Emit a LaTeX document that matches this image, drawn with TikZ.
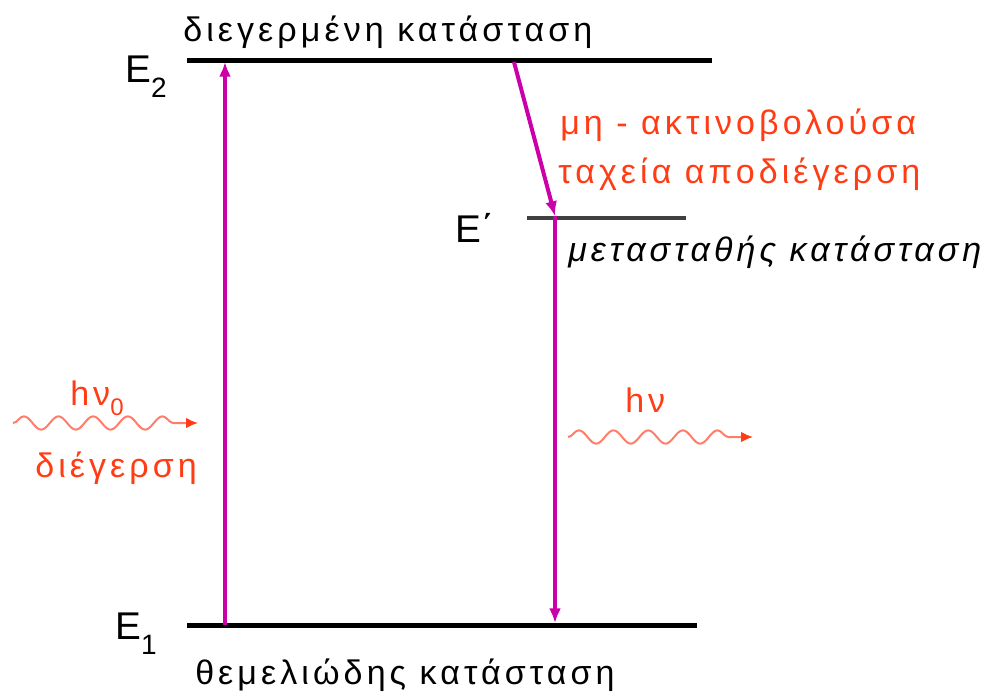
\documentclass[tikz,border=0pt]{standalone}
\usepackage{fontspec}
\setmainfont{Liberation Sans}
\usetikzlibrary{
    arrows.meta,
    decorations.pathmorphing,
    positioning
}
\definecolor{transmag}{RGB}{204,0,170}
\definecolor{labred}{RGB}{255,60,20}
\definecolor{wavered}{RGB}{255,125,105}
\definecolor{metagray}{RGB}{64,64,64}
\newcommand{\lvfont}{\fontsize{29}{34}\selectfont}
\newcommand{\txfont}{\fontsize{25.5}{30}\selectfont\addfontfeature{LetterSpace=12}}
\newcommand{\lvsub}[1]{\raisebox{-0.4em}{\fontsize{21}{24}\selectfont #1}}
\newcommand{\hvsub}[1]{\raisebox{-0.3em}{\fontsize{18}{20}\selectfont #1}}

\begin{document}
\begin{tikzpicture}[x=0.75pt, y=-0.75pt, >=Latex,
    level/.style={line width=3.75pt},
    lvlabel/.style={anchor=base west, inner sep=0pt, font=\lvfont},
    statetext/.style={anchor=base west, inner sep=0pt, font=\txfont},
    redtext/.style={statetext, text=labred},
    trans/.style={->, transmag, line width=3pt,
        >={Latex[length=11pt, width=9pt]}},
    photon/.style={-{Latex[length=9pt, width=8pt, color=labred]}, wavered,
        line width=1.5pt, decorate,
        decoration={snake, amplitude=5pt, segment length=26pt, post length=7pt}}
]
    \useasboundingbox (0,0) rectangle (1006,696);
    % energy levels
    \coordinate (e2w) at (187,60);
    \coordinate (e2e) at (712,60);
    \coordinate (epw) at (527,218);
    \coordinate (epe) at (686,218);
    \coordinate (e1w) at (187,625);
    \coordinate (e1e) at (697,625);
    \draw[level] (e2w) -- (e2e);
    \draw[level, metagray, line width=3pt] (epw) -- (epe);
    \draw[level] (e1w) -- (e1e);
    \node[lvlabel] (e2lab) at (125,82) {E\lvsub{2}};
    \node[lvlabel] (eplab) at (455,242) {E΄};
    \node[lvlabel] (e1lab) at (115,639) {E\lvsub{1}};
    % state names
    \node[statetext] (upper) at (183,41) {διεγερμένη κατάσταση};
    \node[statetext, font=\txfont\itshape] (meta) at (568,261) {μετασταθής κατάσταση};
    \node[statetext] (ground) at (195,684) {θεμελιώδης κατάσταση};
    % transitions
    \coordinate (pumpbot) at (225,625);
    \coordinate (pumptop) at (225,62);
    \coordinate (relaxtop) at (514,62);
    \coordinate (relaxbot) at (555,216);
    \coordinate (emitbot) at (555,623);
    \draw[trans] (pumpbot) -- (pumptop);
    \draw[trans] (relaxtop) -- (relaxbot);
    \draw[trans] (relaxbot) -- (emitbot);
    \node[redtext] (nonrad) at (560,134) {μη - ακτινοβολούσα};
    \node[redtext] (fastdec) at (558,183) {ταχεία αποδιέγερση};
    % absorbed and emitted photons
    \coordinate (inbeg) at (13,423);
    \coordinate (inend) at (198,423);
    \draw[photon] (inbeg) -- (inend);
    \node[redtext] (hvin) at (70,405) {hν\hvsub{0}};
    \node[redtext] (excit) at (35,477) {διέγερση};
    \coordinate (outbeg) at (568,437);
    \coordinate (outend) at (753,437);
    \draw[photon] (outbeg) -- (outend);
    \node[redtext] (hvout) at (625,412) {hν};
\end{tikzpicture}
\end{document}
